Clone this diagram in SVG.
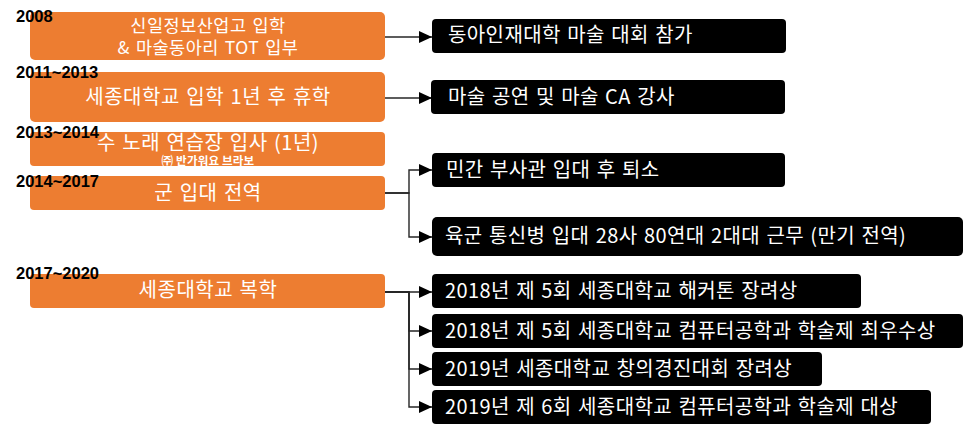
<svg xmlns="http://www.w3.org/2000/svg" width="964" height="430" viewBox="0 0 964 430">
<style>
.ob{fill:#ED7D31;}
.bb{fill:#000000;}
.ot{font-family:"Noto Sans CJK KR","Noto Sans",sans-serif;fill:#FFFFFF;text-anchor:middle;letter-spacing:0.5px;word-spacing:1.5px;}
.bt{font-family:"Noto Sans CJK KR","Noto Sans",sans-serif;fill:#FFFFFF;font-size:20px;letter-spacing:0.4px;word-spacing:1.5px;}
.yr{font-family:"Liberation Sans",Arial,sans-serif;font-weight:bold;font-size:16.5px;fill:#000000;}
.cn{fill:none;stroke:#262626;stroke-width:1.4;}
</style>
<defs>
<marker id="ah" markerUnits="userSpaceOnUse" markerWidth="13" markerHeight="12" refX="13" refY="6" orient="auto">
<path d="M0,0 L13,6 L0,12 z" fill="#000"/>
</marker>
</defs>
<g id="connectors">
<path class="cn" d="M385,37 H432" marker-end="url(#ah)"/>
<path class="cn" d="M385,98 H432" marker-end="url(#ah)"/>
<path class="cn" d="M385,193 H409 V170 H432" marker-end="url(#ah)"/>
<path class="cn" d="M385,193 H409 V237 H432" marker-end="url(#ah)"/>
<path class="cn" d="M385,292 H409 V292 H432" marker-end="url(#ah)"/>
<path class="cn" d="M385,292 H409 V331 H432" marker-end="url(#ah)"/>
<path class="cn" d="M385,292 H409 V369 H432" marker-end="url(#ah)"/>
<path class="cn" d="M385,292 H409 V407 H432" marker-end="url(#ah)"/>
</g>
<g id="n2008">
<rect class="ob" x="30" y="12" width="355" height="48" rx="5"/>
<text class="ot" x="208" y="32" font-size="17.5">신일정보산업고 입학</text>
<text class="ot" x="208" y="54" font-size="17.5">&amp; 마술동아리 TOT 입부</text>
<text class="yr" x="16" y="22">2008</text>
</g>
<g id="n2011">
<rect class="ob" x="30" y="72" width="355" height="50" rx="5"/>
<text class="ot" x="208" y="104" font-size="20">세종대학교 입학 1년 후 휴학</text>
<text class="yr" x="16" y="78">2011~2013</text>
</g>
<g id="n2013">
<rect class="ob" x="30" y="132" width="355" height="34" rx="4"/>
<text class="ot" x="208" y="150" font-size="20">수 노래 연습장 입사 (1년)</text>
<text class="ot" x="208" y="165" font-size="11.5" font-weight="bold" style="letter-spacing:0.2px;word-spacing:0">㈜ 반가워요 브라보</text>
<text class="yr" x="16" y="138">2013~2014</text>
</g>
<g id="n2014">
<rect class="ob" x="30" y="176" width="355" height="34" rx="4"/>
<text class="ot" x="208" y="200" font-size="20">군 입대 전역</text>
<text class="yr" x="16" y="187">2014~2017</text>
</g>
<g id="n2017">
<rect class="ob" x="30" y="274" width="355" height="34" rx="4"/>
<text class="ot" x="208" y="297" font-size="20">세종대학교 복학</text>
<text class="yr" x="16" y="279">2017~2020</text>
</g>
<g id="b1">
<rect class="bb" x="432" y="19" width="354" height="34" rx="4"/>
<text class="bt" x="448" y="42">동아인재대학 마술 대회 참가</text>
</g>
<g id="b2">
<rect class="bb" x="431" y="80" width="354" height="34" rx="4"/>
<text class="bt" x="448" y="104">마술 공연 및 마술 CA 강사</text>
</g>
<g id="b3">
<rect class="bb" x="432" y="153" width="353" height="34" rx="4"/>
<text class="bt" x="446" y="177">민간 부사관 입대 후 퇴소</text>
</g>
<g id="b4">
<rect class="bb" x="432" y="217" width="531" height="39" rx="5"/>
<text class="bt" x="445" y="243">육군 통신병 입대 28사 80연대 2대대 근무 (만기 전역)</text>
</g>
<g id="b5">
<rect class="bb" x="432" y="274" width="429" height="34" rx="4"/>
<text class="bt" x="445" y="298">2018년 제 5회 세종대학교 해커톤 장려상</text>
</g>
<g id="b6">
<rect class="bb" x="432" y="314" width="531" height="34" rx="4"/>
<text class="bt" x="445" y="338">2018년 제 5회 세종대학교 컴퓨터공학과 학술제 최우수상</text>
</g>
<g id="b7">
<rect class="bb" x="432" y="352" width="390" height="34" rx="4"/>
<text class="bt" x="445" y="376">2019년 세종대학교 창의경진대회 장려상</text>
</g>
<g id="b8">
<rect class="bb" x="432" y="390" width="499" height="34" rx="4"/>
<text class="bt" x="445" y="414">2019년 제 6회 세종대학교 컴퓨터공학과 학술제 대상</text>
</g>
</svg>
